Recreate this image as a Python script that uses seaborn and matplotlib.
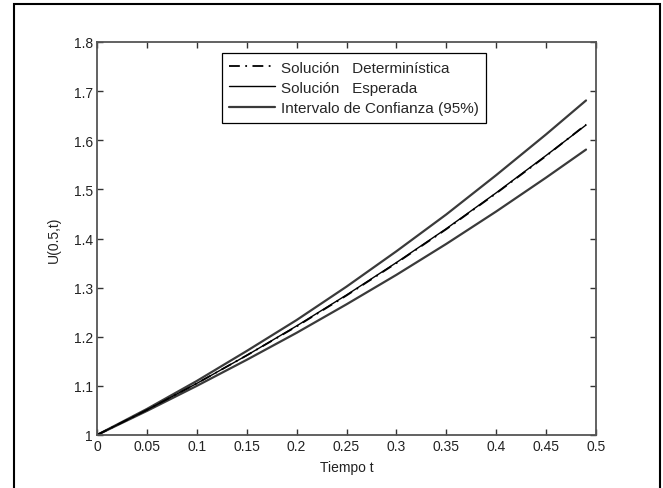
"""Solucion deterministica vs esperada con intervalo de confianza."""

import matplotlib
matplotlib.use("Agg")
import matplotlib.pyplot as plt
import pandas as pd
import seaborn as sns
from matplotlib.patches import Rectangle
from matplotlib.ticker import FormatStrFormatter


TIEMPO = [0.0, 0.05, 0.10, 0.15, 0.20, 0.25, 0.30, 0.35, 0.40, 0.45, 0.49]
DETERMINISTICA = [1.000, 1.051, 1.105, 1.162, 1.221, 1.284, 1.350, 1.419, 1.492, 1.568, 1.632]
ESPERADA = [1.000, 1.051, 1.105, 1.162, 1.222, 1.285, 1.351, 1.420, 1.493, 1.569, 1.631]
IC_SUPERIOR = [1.000, 1.053, 1.110, 1.171, 1.234, 1.302, 1.374, 1.449, 1.529, 1.612, 1.681]
IC_INFERIOR = [1.000, 1.049, 1.100, 1.153, 1.208, 1.266, 1.326, 1.389, 1.455, 1.524, 1.581]
X_TICKS = [0, 0.05, 0.1, 0.15, 0.2, 0.25, 0.3, 0.35, 0.4, 0.45, 0.5]
Y_TICKS = [1.0, 1.1, 1.2, 1.3, 1.4, 1.5, 1.6, 1.7, 1.8]


df = pd.DataFrame({"t": TIEMPO, "det": DETERMINISTICA, "esp": ESPERADA, "sup": IC_SUPERIOR, "inf": IC_INFERIOR})

sns.set_theme(style="white")
plt.rcParams["font.family"] = ["Liberation Sans", "DejaVu Sans"]

fig = plt.figure(figsize=(6.63, 4.89), dpi=100)
ax = fig.add_axes([97 / 663, 1 - 436 / 489, 499 / 663, 393 / 489])

sns.lineplot(data=df, x="t", y="sup", ax=ax, color="#3a3a3a", lw=1.6, label="Intervalo de Confianza (95%)")
sns.lineplot(data=df, x="t", y="inf", ax=ax, color="#3a3a3a", lw=1.6, label="_nolegend_")
sns.lineplot(data=df, x="t", y="esp", ax=ax, color="black", lw=1.0, label="Solución   Esperada")
sns.lineplot(data=df, x="t", y="det", ax=ax, color="black", lw=1.3, linestyle=(0, (6, 3, 1, 3)), label="Solución   Determinística")

ax.set_xlim(0, 0.5); ax.set_ylim(1, 1.8)
ax.set_xticks(X_TICKS); ax.set_yticks(Y_TICKS)
ax.xaxis.set_major_formatter(FormatStrFormatter("%g"))
ax.yaxis.set_major_formatter(FormatStrFormatter("%g"))
ax.tick_params(direction="in", length=4, width=1, colors="#333333", labelcolor="#222222", labelsize=10, top=True, right=True, bottom=True, left=True, pad=3)
for sp in ax.spines.values():
    sp.set_color("#555555"); sp.set_linewidth(1.3)
ax.set_xlabel("Tiempo t", fontsize=10, color="#222222", labelpad=5)
ax.set_ylabel("U(0.5,t)", fontsize=10, color="#222222", labelpad=9)

handles, labels = ax.get_legend_handles_labels()
order = [labels.index(l) for l in ["Solución   Determinística", "Solución   Esperada", "Intervalo de Confianza (95%)"]]
leg = ax.legend([handles[i] for i in order], [labels[i] for i in order], loc="upper left", bbox_to_anchor=(0.25, 0.972),
                fontsize=11, frameon=True, fancybox=False, edgecolor="black", framealpha=1, handlelength=3.0,
                handletextpad=0.35, borderpad=0.5, labelspacing=0.4, borderaxespad=0)
leg.get_frame().set_linewidth(0.9)

fig.add_artist(Rectangle((14 / 663, -0.05), 646 / 663, 1.05 - 5 / 489, transform=fig.transFigure, fill=False, edgecolor="black", lw=1.5))

fig.savefig("out.png", dpi=100)
